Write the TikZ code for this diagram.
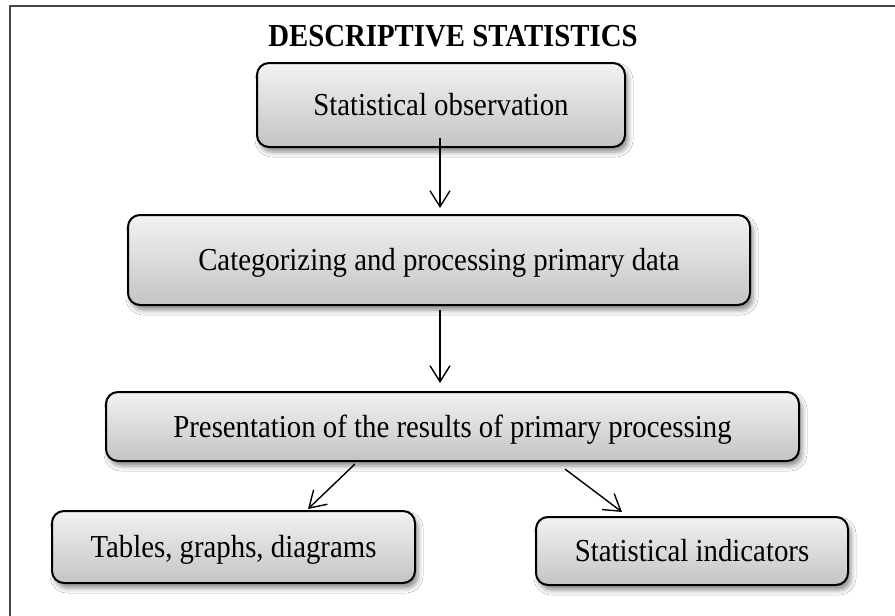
\documentclass[tikz,border=0pt]{standalone}
\usepackage{fontspec}
\setmainfont[FakeStretch=0.9]{Liberation Serif}
\usetikzlibrary{shadows.blur,arrows.meta,calc}
\definecolor{boxtop}{RGB}{242,242,242}
\definecolor{boxbot}{RGB}{196,196,196}
\definecolor{framecol}{RGB}{70,70,70}
\begin{document}
\begin{tikzpicture}[x=1pt,y=-1pt,
  box/.style={draw=black, line width=2pt, rounded corners=12pt,
    top color=boxtop, bottom color=boxbot,
    blur shadow={shadow xshift=3pt,shadow yshift=-5pt,shadow blur radius=5pt,shadow opacity=45},
    inner sep=0pt, align=center, text height=21pt, text depth=0pt,
    font=\fontsize{32}{36}\selectfont},
  arr/.style={-{Straight Barb[length=16pt,width=20pt,line width=1.4pt]}, line width=1.4pt},
  ttl/.style={font=\bfseries\fontsize{32}{36}\selectfont, inner sep=0pt}
]
\useasboundingbox (0,0) rectangle (895,616);
\fill[white] (0,0) rectangle (895,616);
\draw[line width=2pt, framecol] (10,616) -- (10,6) -- (895,6);

\node[ttl] (title) at (453,36) {DESCRIPTIVE STATISTICS};

\node[box, minimum width=368pt, minimum height=84pt] (b1) at (441,105) {Statistical observation};
\node[box, minimum width=622pt, minimum height=90pt] (b2) at (439,260) {Categorizing and processing primary data};
\node[box, minimum width=693pt, minimum height=69pt] (b3) at (452.5,426.5) {Presentation of the results of primary processing};
\node[box, minimum width=363pt, minimum height=72pt] (b4) at (233.5,547) {Tables, graphs, diagrams};
\node[box, minimum width=312pt, minimum height=68pt] (b5) at (692,551) {Statistical indicators};

\draw[arr] ($(b1.south)+(-1,-10)$) -- ($(b2.north)+(1,-6)$);
\draw[arr] ($(b2.south)+(1,4)$) -- ($(b3.north -| b2.south)+(1,-8)$);
\draw[arr] ($(b3.south)+(-97.5,2)$) -- ($(b4.north)+(74.5,-1)$);
\draw[arr] ($(b3.south)+(112.5,7)$) -- ($(b5.north)+(-70,-4)$);
\end{tikzpicture}
\end{document}
